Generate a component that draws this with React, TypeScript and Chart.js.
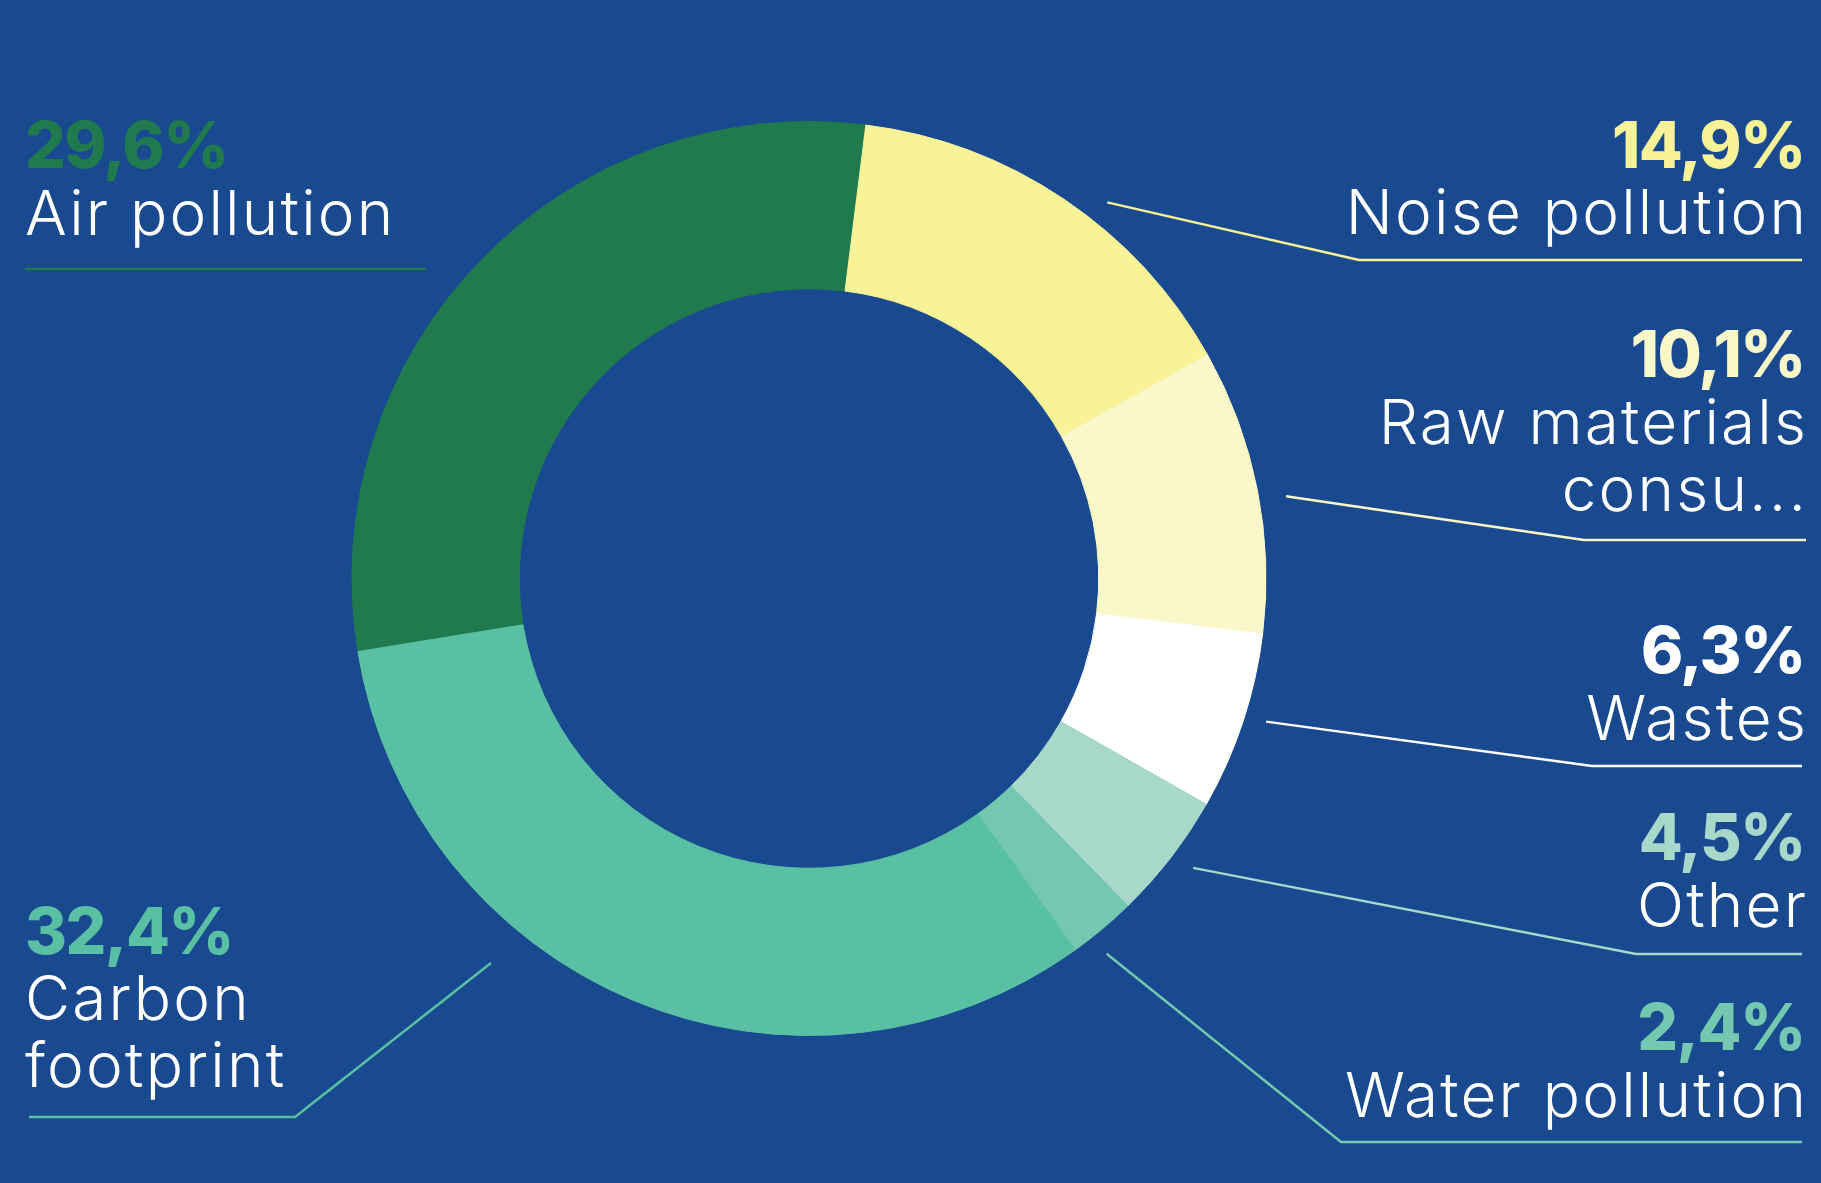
import React, { useEffect, useRef } from "react";
import { Chart, registerables } from "chart.js";

Chart.register(...registerables);

// ---- data ----
const categories = [
  "Air pollution",
  "Noise pollution",
  "Raw materials consumption",
  "Wastes",
  "Other",
  "Water pollution",
  "Carbon footprint",
];
const labelLines = [
  ["Air pollution"],
  ["Noise pollution"],
  ["Raw materials", "consu..."],
  ["Wastes"],
  ["Other"],
  ["Water pollution"],
  ["Carbon", "footprint"],
];
const shares = [29.6, 14.9, 10.1, 6.3, 4.5, 2.4, 32.4];
const sliceColors = ["#217A4D", "#F8F397", "#FAF8C9", "#FFFFFF", "#A8D8CA", "#74C8B0", "#59C0A3"];

// ---- styles / layout ----
const BG = "#19498F";
const W = 1821;
const H = 1183;
const PCT_FONT = "800 64px Inter, 'Open Sans', sans-serif";
const PCT_SPACING = -1.5;
const NAME_FONT = "260 62px Inter, 'Open Sans', sans-serif";
const NAME_SPACING = 2.2;

type Layout = {
  side: "left" | "right";
  x: number;
  pctBaseline: number;
  lineBaselines: number[];
  underlineY: number;
  from: number;
  to: number;
  leader: boolean;
  nudge: number; // degrees
  reach: number; // px beyond outer radius
};

const layouts: Layout[] = [
  { side: "left", x: 25, pctBaseline: 168, lineBaselines: [235], underlineY: 269, from: 25, to: 426, leader: false, nudge: 0, reach: 23 },
  { side: "right", x: 1806, pctBaseline: 168, lineBaselines: [234], underlineY: 260, from: 1359, to: 1802, leader: true, nudge: 4.5, reach: 23 },
  { side: "right", x: 1806, pctBaseline: 377, lineBaselines: [444, 511], underlineY: 540, from: 1584, to: 1806, leader: true, nudge: 1.4, reach: 27 },
  { side: "right", x: 1806, pctBaseline: 673, lineBaselines: [740], underlineY: 766, from: 1592, to: 1802, leader: true, nudge: -0.9, reach: 22 },
  { side: "right", x: 1806, pctBaseline: 860, lineBaselines: [927], underlineY: 954, from: 1636, to: 1802, leader: true, nudge: -0.7, reach: 24 },
  { side: "right", x: 1806, pctBaseline: 1050, lineBaselines: [1117], underlineY: 1142, from: 1341, to: 1802, leader: true, nudge: 1.5, reach: 22 },
  { side: "left", x: 25, pctBaseline: 954, lineBaselines: [1020, 1087], underlineY: 1117, from: 29, to: 295, leader: true, nudge: 17, reach: 42 },
];

const fmt = (v: number) => v.toFixed(1).replace(".", ",") + "%";

function drawSpaced(ctx: any, text: string, x: number, y: number, spacing: number, right: boolean) {
  ctx.letterSpacing = spacing + "px";
  // trailing spacing is included in the measured advance; compensate when right-aligned
  ctx.fillText(text, right ? x + spacing : x, y);
  ctx.letterSpacing = "0px";
}

const labelPlugin = {
  id: "sideLabels",
  beforeDraw(chart: any) {
    const { ctx } = chart;
    ctx.save();
    ctx.fillStyle = BG;
    ctx.fillRect(0, 0, chart.width, chart.height);
    ctx.restore();
  },
  afterDatasetsDraw(chart: any) {
    const { ctx } = chart;
    const meta = chart.getDatasetMeta(0);
    ctx.save();
    meta.data.forEach((arc: any, i: number) => {
      const lay = layouts[i];
      const color = sliceColors[i];
      const p = arc.getProps(["x", "y", "startAngle", "endAngle", "outerRadius"], true);
      const mid = (p.startAngle + p.endAngle) / 2 + (lay.nudge * Math.PI) / 180;
      const r = p.outerRadius + lay.reach;
      const sx = p.x + Math.cos(mid) * r;
      const sy = p.y + Math.sin(mid) * r;

      ctx.strokeStyle = color;
      ctx.lineWidth = 2.5;
      ctx.lineJoin = "miter";
      ctx.beginPath();
      if (lay.leader) {
        const elbowX = lay.side === "right" ? lay.from : lay.to;
        const endX = lay.side === "right" ? lay.to : lay.from;
        ctx.moveTo(sx, sy);
        ctx.lineTo(elbowX, lay.underlineY);
        ctx.lineTo(endX, lay.underlineY);
      } else {
        ctx.moveTo(lay.from, lay.underlineY);
        ctx.lineTo(lay.to, lay.underlineY);
      }
      ctx.stroke();

      const right = lay.side === "right";
      ctx.textAlign = right ? "right" : "left";
      ctx.textBaseline = "alphabetic";
      ctx.font = PCT_FONT;
      ctx.fillStyle = color;
      drawSpaced(ctx, fmt(shares[i]), lay.x, lay.pctBaseline, PCT_SPACING, right);
      ctx.font = NAME_FONT;
      ctx.fillStyle = "#FFFFFF";
      labelLines[i].forEach((line, k) => {
        drawSpaced(ctx, line, lay.x, lay.lineBaselines[k], NAME_SPACING, right);
      });
    });
    ctx.restore();
  },
};

export default function App() {
  const canvasRef = useRef<HTMLCanvasElement | null>(null);

  useEffect(() => {
    if (!canvasRef.current) return;
    const chart = new Chart(canvasRef.current, {
      type: "doughnut",
      data: {
        labels: categories,
        datasets: [
          {
            data: shares,
            backgroundColor: sliceColors,
            borderColor: sliceColors,
            borderWidth: 1,
          },
        ],
      },
      options: {
        animation: false,
        responsive: true,
        maintainAspectRatio: false,
        rotation: -99.2,
        cutout: "63.4%",
        layout: { padding: { left: 351, right: 554, top: 121, bottom: 147 } },
        plugins: {
          legend: { display: false },
          tooltip: { enabled: false },
        },
        events: [],
      } as any,
      plugins: [labelPlugin],
    });
    let alive = true;
    if ((document as any).fonts && (document as any).fonts.ready) {
      (document as any).fonts.ready.then(() => {
        if (alive) chart.update();
      });
    }
    return () => {
      alive = false;
      chart.destroy();
    };
  }, []);

  return (
    <div style={{ position: "fixed", left: 0, top: 0, width: W, height: H, background: BG }}>
      <canvas ref={canvasRef} style={{ display: "block" }} />
    </div>
  );
}
